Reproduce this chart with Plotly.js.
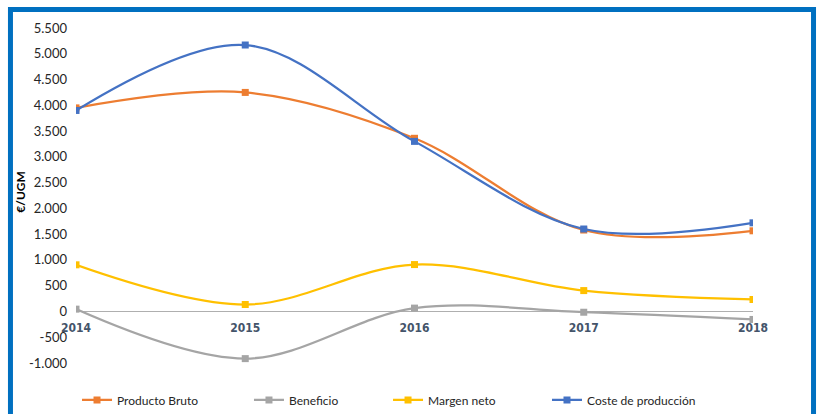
<!DOCTYPE html>
<html>
<head>
<meta charset="utf-8">
<script src="https://cdn.plot.ly/plotly-3.0.1.min.js"></script>
<style>html,body{margin:0;padding:0;background:#fff;}#chart{width:819px;height:414px;}</style>
</head>
<body>
<div id="chart"></div>
<script>
const years = [2014, 2015, 2016, 2017, 2018];
const yearLabels = ["2014", "2015", "2016", "2017", "2018"];
const productoBruto = [3950, 4250, 3360, 1580, 1565];
const beneficio = [45, -915, 65, -15, -155];
const margenNeto = [905, 135, 910, 405, 232];
const costeProduccion = [3900, 5170, 3300, 1600, 1720];
const yTickVals = [-1000, -500, 0, 500, 1000, 1500, 2000, 2500, 3000, 3500, 4000, 4500, 5000, 5500];
const yTickText = ["-1.000", "-500", "0", "500", "1.000", "1.500", "2.000", "2.500", "3.000", "3.500", "4.000", "4.500", "5.000", "5.500"];

const seriesNames = ["Producto Bruto", "Beneficio", "Margen neto", "Coste de producción"];
const seriesData = [productoBruto, beneficio, margenNeto, costeProduccion];
const seriesColors = ["#ED7D31", "#A5A5A5", "#FFC000", "#4472C4"];
const legendIds = ["legend", "legend2", "legend3", "legend4"];
const legendX = [0.0015, 0.2555, 0.4609, 0.6957];

const traces = seriesNames.map((n, i) => ({
  type: "scatter", mode: "lines+markers", name: n,
  x: years, y: seriesData[i],
  line: {color: seriesColors[i], width: 2.25, shape: "spline", smoothing: 1},
  marker: {symbol: "square", size: 7, color: seriesColors[i]},
  legend: legendIds[i]
}));

const legFont = {family: "Lato, 'Liberation Sans', sans-serif", size: 12, color: "#262626"};
const layout = {
  width: 819, height: 414,
  margin: {l: 76, r: 66, t: 28, b: 51, autoexpand: false},
  paper_bgcolor: "#ffffff", plot_bgcolor: "#ffffff",
  showlegend: true,
  xaxis: {
    type: "linear", range: [2014, 2018], anchor: "free", position: 1000/6500,
    showgrid: false, zeroline: false, showline: false, ticks: "",
    tickvals: years, ticktext: yearLabels, ticklabelstandoff: 8,
    tickfont: {family: "'DejaVu Sans Condensed', 'Liberation Sans Narrow', sans-serif", size: 12, color: "#44546A", weight: "bold"}
  },
  yaxis: {
    range: [-1000, 5500], showgrid: false, zeroline: true, zerolinecolor: "#AFAFAF", zerolinewidth: 1,
    showline: false, ticks: "", tickvals: yTickVals, ticktext: yTickText, ticklabelstandoff: 8,
    tickfont: {family: "Lato, 'Liberation Sans', sans-serif", size: 13, color: "#262626"}
  },
  annotations: [{
    text: "€/UGM", xref: "paper", yref: "paper", x: -0.082, y: 0.513,
    xanchor: "center", yanchor: "middle", textangle: -90, showarrow: false,
    font: {family: "Lato, 'Liberation Sans', sans-serif", size: 12, color: "#000", weight: "bold"}
  }],
  shapes: [{
    type: "rect", xref: "paper", yref: "paper", layer: "above",
    x0: -0.0968, x1: 1.0894, y0: -0.2, y1: 1.0552,
    line: {color: "#0070C0", width: 5}, fillcolor: "rgba(0,0,0,0)"
  }]
};
legendIds.forEach((id, i) => {
  layout[id] = {orientation: "h", x: legendX[i], xanchor: "left", y: -0.1104, yanchor: "middle",
    font: legFont, bgcolor: "rgba(0,0,0,0)", borderwidth: 0};
});
Plotly.newPlot("chart", traces, layout, {displayModeBar: false, staticPlot: true});
</script>
</body>
</html>
